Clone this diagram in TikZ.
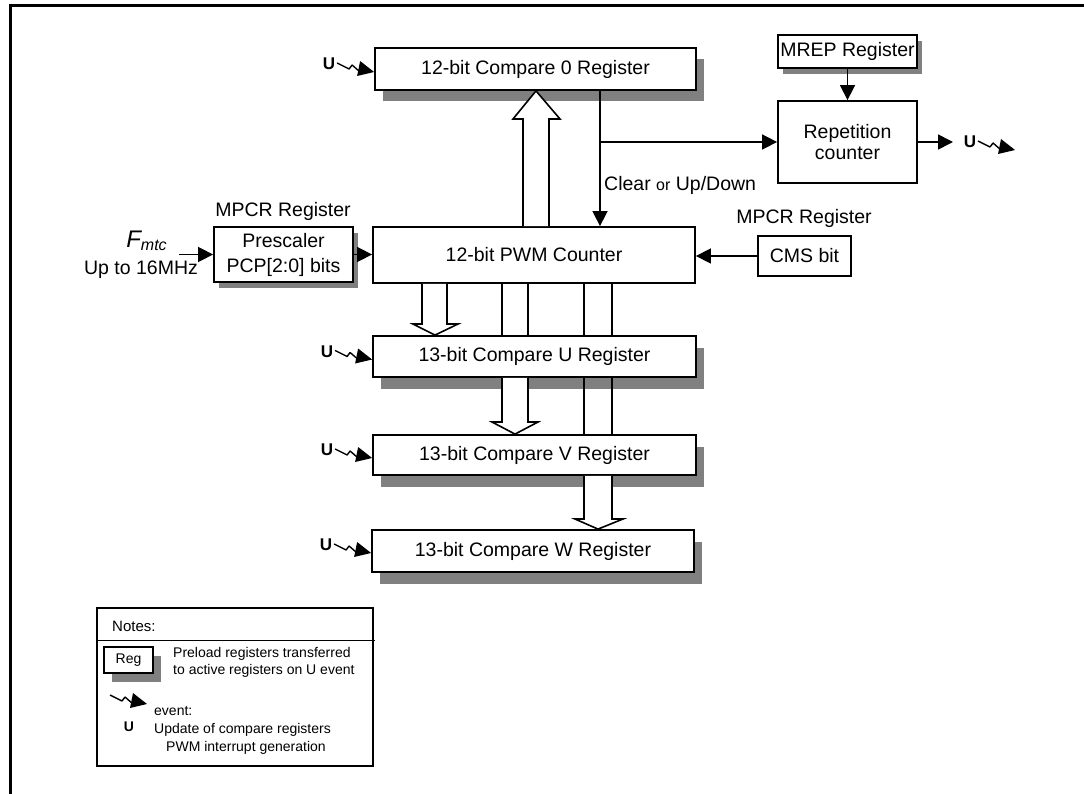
\documentclass[tikz,border=0pt]{standalone}
\usepackage{fontspec}
\setmainfont{Liberation Sans}
\usetikzlibrary{arrows.meta,shadows}
\begin{document}
\begin{tikzpicture}[x=1pt,y=-1pt,
 base/.style={font=\fontsize{19.5}{22}\selectfont},
 reg/.style={base,draw,fill=white,line width=1.8pt,inner sep=0pt,align=center},
 shd/.style={drop shadow={shadow xshift=8pt,shadow yshift=-11.5pt,fill=black!50,opacity=1}},
 shdsm/.style={drop shadow={shadow xshift=5pt,shadow yshift=-6pt,fill=black!50,opacity=1}},
 shdreg/.style={drop shadow={shadow xshift=8pt,shadow yshift=-9pt,fill=black!50,opacity=1}},
 wire/.style={line width=1.6pt},
 arr/.style={wire,-{Triangle[length=15pt,width=15pt]}},
 hollow/.style={draw,fill=white,line width=1.6pt,line join=miter},
 lbl/.style={base,inner sep=0pt},
 note/.style={font=\fontsize{14}{16}\selectfont,inner sep=0pt,anchor=west},
 evt/.pic={
   \draw[line width=1.4pt,line join=bevel] (-37,-9) -- (-25,-3) -- (-22,-7) -- (-14,0);
   \fill (-14,-11) -- (0,0) -- (-17,4) -- cycle;
 },
 evtU/.pic={
   \draw[line width=1.4pt,line join=bevel] (-37,-9) -- (-25,-3) -- (-22,-7) -- (-14,0);
   \fill (-14,-11) -- (0,0) -- (-17,4) -- cycle;
   \node[font=\bfseries\fontsize{17}{17}\selectfont,inner sep=0pt] (-u) at (-45,-8) {U};
 },
]
\useasboundingbox (0,0) rectangle (1084,794);
% frame
\draw[line width=3pt] (10.5,794) -- (10.5,6) -- (1084,6);

% register boxes
\node[reg,shd,minimum width=321pt,minimum height=42pt] (c0) at (535.5,69) {12-bit Compare 0 Register};
\node[reg,shdsm,minimum width=139pt,minimum height=33pt] (mrep) at (847.5,51.5) {MREP Register};
\node[reg,minimum width=139pt,minimum height=82pt,font=\fontsize{19.5}{21}\selectfont] (rep) at (847.5,142) {Repetition\\counter};
\node[reg,shdsm,minimum width=139pt,minimum height=55pt,font=\fontsize{19.5}{25}\selectfont] (pre) at (283.5,254.5) {Prescaler\\PCP[2:0] bits};
\node[reg,minimum width=322pt,minimum height=56pt] (pwm) at (534,255) {12-bit PWM Counter};
\node[reg,minimum width=93pt,minimum height=40pt] (cms) at (804.5,256) {CMS bit};
\node[reg,shd,minimum width=323pt,minimum height=41pt] (cu) at (534.5,356.5) {13-bit Compare U Register};
\node[reg,shd,minimum width=323pt,minimum height=40pt] (cv) at (534.5,455) {13-bit Compare V Register};
\node[reg,shd,minimum width=322pt,minimum height=42pt] (cw) at (533,551) {13-bit Compare W Register};

% labels
\node[lbl] (mpcr1) at (283,211) {MPCR Register};
\node[lbl] (mpcr2) at (804,218) {MPCR Register};
\node[lbl,anchor=west] (clr) at (604,185) {Clear {\fontsize{16}{16}\selectfont or} Up/Down};
\node[inner sep=0pt] (fmtc) at (146.5,241) {{\fontsize{24}{24}\selectfont\itshape F}{\fontsize{16}{16}\selectfont\itshape\raisebox{-3pt}{mtc}}};
\node[lbl] (up16) at (141,270) {Up to 16MHz};

% input clock
\coordinate (fin) at (179,254.5);
\draw[arr] (fin) -- (pre.west);
\draw[arr] (pre.east) -- (pwm.west |- pre.east);
\draw[arr] (cms.west) -- (pwm.east |- cms.west);

% counter / compare0 / repetition
\draw[arr] (600,0 |- c0.south) -- (600,0 |- pwm.north);
\coordinate (br) at (600,142);
\draw[arr] (br) -- (rep.west);
\draw[arr] (mrep.south) -- (rep.north);
\coordinate (repout) at (953,142);
\draw[arr] (rep.east) -- (repout);
\pic (er) at (1015,150) {evtU};

% hollow bus arrows
\draw[hollow] (523,0 |- pwm.north) -- (523,119) -- (513,119) -- (536,0 |- c0.south) -- (560,119) -- (549,119) -- (549,0 |- pwm.north);
\draw[hollow] (422,0 |- pwm.south) -- (422,324) -- (413,324) -- (435,0 |- cu.north) -- (458,324) -- (447,324) -- (447,0 |- pwm.south);
\draw[wire] (502,0 |- pwm.south) -- (502,0 |- cu.north);
\draw[wire] (528,0 |- pwm.south) -- (528,0 |- cu.north);
\draw[wire] (584,0 |- pwm.south) -- (584,0 |- cu.north);
\draw[wire] (612,0 |- pwm.south) -- (612,0 |- cu.north);
\draw[wire] (584,0 |- cu.south) -- (584,0 |- cv.north);
\draw[wire] (612,0 |- cu.south) -- (612,0 |- cv.north);
\draw[hollow] (502,0 |- cu.south) -- (502,422) -- (492,422) -- (515,0 |- cv.north) -- (538,422) -- (528,422) -- (528,0 |- cu.south);
\draw[hollow] (584,0 |- cv.south) -- (584,519) -- (575,519) -- (598,0 |- cw.north) -- (623,519) -- (612,519) -- (612,0 |- cv.south);

% U events
\pic (e0) at ([yshift=-3pt]c0.west) {evtU};
\pic (eu) at ([yshift=-3pt]cu.west) {evtU};
\pic (ev) at ([yshift=-3pt]cv.west) {evtU};
\pic (ew) at ([yshift=-2pt]cw.west) {evtU};

% notes
\node[draw,line width=1.5pt,minimum width=276pt,minimum height=158pt,inner sep=0pt] (notes) at (235,687) {};
\draw[line width=1.5pt] ([yshift=-33pt]notes.north west) -- ([yshift=-33pt,xshift=1pt]notes.north east);
\node[note,font=\fontsize{15}{17}\selectfont] (nt) at (112,626) {Notes:};
\node[draw,fill=white,line width=1.5pt,inner sep=0pt,minimum width=49pt,minimum height=26pt,font=\fontsize{14}{16}\selectfont,shdreg] (regbox) at (128.5,660) {Reg};
\node[note] (n1) at (173,654) {Preload registers transferred};
\node[note] (n2) at (173,671) {to active registers on U event};
\pic (en) at (147,704) {evt};
\node[note] (n3) at (154,711) {event:};
\node[font=\bfseries\fontsize{14}{16}\selectfont,inner sep=0pt] (nu) at (129,727) {U};
\node[note] (n4) at (154,730) {Update of compare registers};
\node[note] (n5) at (166,748) {PWM interrupt generation};
\end{tikzpicture}
\end{document}
